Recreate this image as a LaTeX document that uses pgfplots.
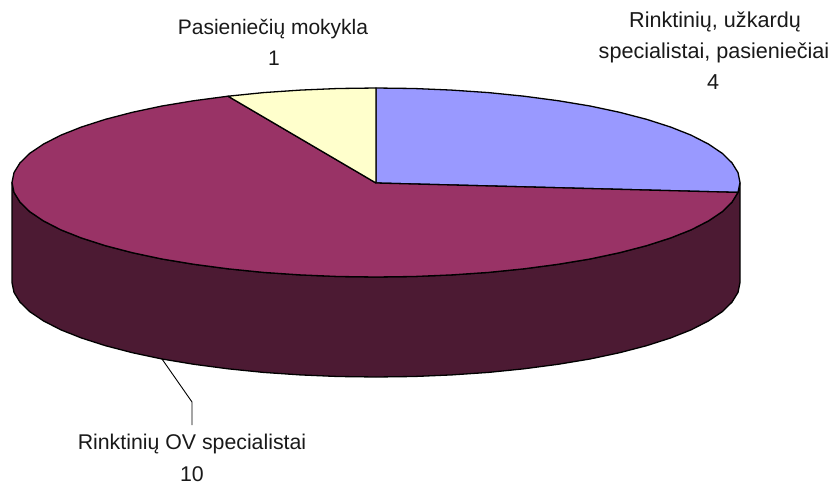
\documentclass[border=0pt]{standalone}
\usepackage{pgfplots}
\pgfplotsset{compat=1.18}
\usepackage{fontspec}
\setmainfont{Liberation Sans}
\definecolor{cblue}{HTML}{9999FF}
\definecolor{cred}{HTML}{993366}
\definecolor{cyel}{HTML}{FFFFCC}
\definecolor{cdark}{HTML}{4C1A33}
\tikzset{lab/.style={font=\fontsize{21.3}{24}\selectfont, text=black!90, anchor=center, inner sep=0pt},
  labr/.style={lab, font=\fontsize{21.6}{24}\selectfont},
  labt/.style={lab, font=\fontsize{21}{24}\selectfont}}
\begin{document}
\begin{tikzpicture}
\begin{axis}[
  scale only axis, width=834pt, height=484pt,
  xmin=0, xmax=834, ymin=0, ymax=484, y dir=reverse,
  hide axis, clip=false,
  every axis plot/.append style={line join=round, line width=1.3pt, draw=black, mark=none}
]
\path (axis cs:0,0) rectangle (axis cs:834,484);
% side wall of the large slice
\addplot[fill=cdark] coordinates {
(740,182.5)(738,192.4)(732,202.1)(722.2,211.7)(708.5,220.9)(691.2,229.8)(670.5,238)(646.5,245.7)(619.6,252.7)(590,259)(558,264.3)(524,268.8)(488.5,272.4)(451.7,274.9)(414,276.5)(376,277)(338,276.5)(300.3,274.9)(263.5,272.4)(228,268.8)(194,264.3)(162,259)(132.4,252.7)(105.5,245.7)(81.5,238)(60.8,229.8)(43.5,220.9)(29.8,211.7)(20,202.1)(14,192.4)(12,182.5)
(12,282.5)(14,292.4)(20,302.1)(29.8,311.7)(43.5,320.9)(60.8,329.8)(81.5,338)(105.5,345.7)(132.4,352.7)(162,359)(194,364.3)(228,368.8)(263.5,372.4)(300.3,374.9)(338,376.5)(376,377)(414,376.5)(451.7,374.9)(488.5,372.4)(524,368.8)(558,364.3)(590,359)(619.6,352.7)(646.5,345.7)(670.5,338)(691.2,329.8)(708.5,320.9)(722.2,311.7)(732,302.1)(738,292.4)(740,282.5)(740,182.5)
};
% blue slice
\addplot[fill=cblue] coordinates {
(376,183)(376,88)(414,88.5)(451.7,90.1)(488.5,92.6)(524,96.2)(558,100.7)(590,106)(619.6,112.3)(646.5,119.3)(670.5,127)(691.2,135.2)(708.5,144.1)(722.2,153.3)(732,162.9)(738,172.6)(740,182.5)(738,192.4)(376,183)
};
% red slice
\addplot[fill=cred] coordinates {
(376,183)(738,192.4)(732,202.1)(722.2,211.7)(708.5,220.9)(691.2,229.8)(670.5,238)(646.5,245.7)(619.6,252.7)(590,259)(558,264.3)(524,268.8)(488.5,272.4)(451.7,274.9)(414,276.5)(376,277)(338,276.5)(300.3,274.9)(263.5,272.4)(228,268.8)(194,264.3)(162,259)(132.4,252.7)(105.5,245.7)(81.5,238)(60.8,229.8)(43.5,220.9)(29.8,211.7)(20,202.1)(14,192.4)(12,182.5)(14,172.6)(20,162.9)(29.8,153.3)(43.5,144.1)(60.8,135.2)(81.5,127)(105.5,119.3)(132.4,112.3)(162,106)(194,100.7)(228,96.2)(376,183)
};
% yellow slice
\addplot[fill=cyel] coordinates {
(376,183)(228,96.2)(263.5,92.6)(300.3,90.1)(338,88.5)(376,88)(376,183)
};
% leader line
\addplot[line width=0.9pt] coordinates {(162,359)(192,402)(192,425)};
\node[labt] at (axis cs:273,29) {Pasieniečių mokykla};
\node[labt] at (axis cs:274,58) {1};
\node[labr] at (axis cs:715,22) {Rinktinių, užkardų};
\node[labr] at (axis cs:714,53) {specialistai, pasieniečiai};
\node[labr] at (axis cs:713,82) {4};
\node[lab] at (axis cs:192,444) {Rinktinių OV specialistai};
\node[lab] at (axis cs:192,474) {10};
\end{axis}
\end{tikzpicture}
\end{document}
